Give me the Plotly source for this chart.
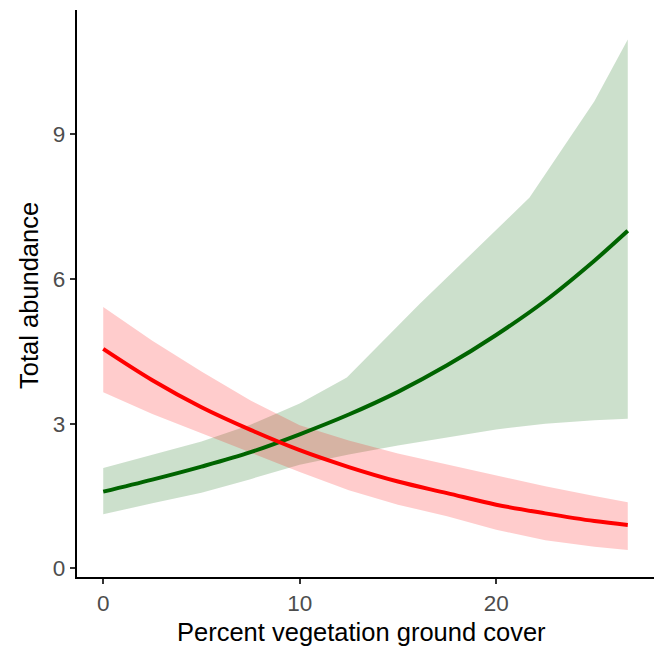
import plotly.graph_objects as go

# ---- data ----
x_line = [0, 2.5, 5, 7.5, 10, 12.5, 15, 17.5, 20, 22.5, 25, 26.7]
green_fit = [1.59, 1.84, 2.11, 2.41, 2.78, 3.19, 3.66, 4.21, 4.84, 5.55, 6.38, 7.00]
red_fit = [4.55, 3.90, 3.34, 2.87, 2.45, 2.10, 1.80, 1.56, 1.32, 1.14, 0.98, 0.90]

red_upper = [5.42, 4.72, 4.08, 3.48, 2.97, 2.65, 2.38, 2.15, 1.93, 1.70, 1.50, 1.37]
red_lower = [3.65, 3.20, 2.80, 2.40, 2.00, 1.62, 1.32, 1.08, 0.80, 0.58, 0.45, 0.38]

x_green_upper = [0, 2.5, 5, 7.5, 10, 12.4, 16.1, 21.7, 25.0, 26.7]
green_upper = [2.08, 2.35, 2.63, 2.98, 3.42, 3.96, 5.48, 7.69, 9.69, 10.97]
green_lower = [1.12, 1.35, 1.57, 1.85, 2.15, 2.36, 2.55, 2.72, 2.88, 3.00, 3.07, 3.10]

x_ticks = [0, 10, 20]
y_ticks = [0, 3, 6, 9]
x_title = "Percent vegetation ground cover"
y_title = "Total abundance"

FONT = "Liberation Sans, Arial, sans-serif"

fig = go.Figure()

# confidence bands
fig.add_trace(go.Scatter(
    x=x_green_upper + x_line[::-1],
    y=green_upper + green_lower[::-1],
    fill="toself", fillcolor="rgba(0,100,0,0.2)",
    line=dict(width=0), mode="lines", hoverinfo="skip", showlegend=False))
fig.add_trace(go.Scatter(
    x=x_line + x_line[::-1],
    y=red_upper + red_lower[::-1],
    fill="toself", fillcolor="rgba(255,0,0,0.2)",
    line=dict(width=0), mode="lines", hoverinfo="skip", showlegend=False))

# fitted lines
fig.add_trace(go.Scatter(x=x_line, y=green_fit, mode="lines",
                         line=dict(color="#006400", width=4, shape="spline"),
                         showlegend=False))
fig.add_trace(go.Scatter(x=x_line, y=red_fit, mode="lines",
                         line=dict(color="#FF0000", width=4, shape="spline"),
                         showlegend=False))

axis_common = dict(
    showgrid=False, zeroline=False,
    showline=True, linecolor="black", linewidth=2.4,
    ticks="outside", ticklen=5, tickwidth=2, tickcolor="#333333",
    tickfont=dict(family=FONT, size=22.5, color="#4D4D4D"),
)

fig.update_layout(
    width=657, height=646,
    margin=dict(l=77, r=3, t=10, b=69, autoexpand=False),
    paper_bgcolor="white", plot_bgcolor="white",
    font=dict(family=FONT),
    xaxis=dict(range=[-1.335, 28.035], tickvals=x_ticks,
               ticktext=[str(v) for v in x_ticks], **axis_common),
    yaxis=dict(range=[-0.18, 11.58], tickvals=y_ticks,
               ticktext=[str(v) for v in y_ticks], **axis_common),
    annotations=[
        dict(text=x_title, xref="paper", yref="paper", x=0.493, y=0,
             xanchor="center", yanchor="middle", yshift=-55, showarrow=False,
             font=dict(family=FONT, size=25.5, color="black")),
        dict(text=y_title, xref="paper", yref="paper", x=0, y=0.4956,
             xanchor="center", yanchor="middle", xshift=-48, textangle=-90,
             showarrow=False, font=dict(family=FONT, size=25.5, color="black")),
    ],
)

fig.write_html("out.html")
